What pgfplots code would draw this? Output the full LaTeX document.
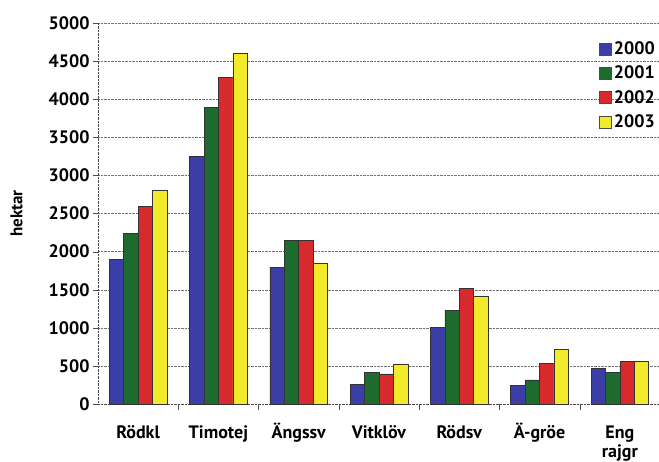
\documentclass[border=0pt]{standalone}
\usepackage{pgfplots}
\pgfplotsset{compat=1.18}
\usepackage{fontspec}
\setmainfont{PT Sans}

\definecolor{c2000}{HTML}{3A3EA6}
\definecolor{c2001}{HTML}{1E6B2E}
\definecolor{c2002}{HTML}{D82A2C}
\definecolor{c2003}{HTML}{F2EA2A}

\newcommand{\lblfont}{\bfseries\fontsize{18}{21}\selectfont}

\begin{document}
\begin{tikzpicture}
\useasboundingbox (-98pt,-57pt) rectangle (561pt,404pt);
\begin{axis}[
  scale only axis, width=562pt, height=381pt,
  ybar=0pt, bar width=14.4pt,
  xmin=-0.5, xmax=6.5, ymin=0, ymax=5000,
  ytick={0,500,...,5000},
  xtick={0,...,6},
  xticklabels={Rödkl, Timotej, Ängssv, Vitklöv, Rödsv, Ä-gröe,
    {\begin{tabular}[t]{@{}c@{}}Eng\\[-2pt]rajgr\end{tabular}}},
  xticklabel style={anchor=base, yshift=-29pt},
  minor x tick num=1,
  major x tick style={draw=none},
  minor x tick style={draw=black!70},
  minor tick length=6pt, major tick length=5pt,
  tick align=outside,
  axis x line*=bottom, axis y line*=left,
  axis line style={densely dotted, draw=black!70},
  ymajorgrids, grid style={densely dotted, draw=black!55},
  ytick style={draw=black!70},
  /pgf/number format/assume math mode=true,
  /pgf/number format/1000 sep={},
  ticklabel style={font=\lblfont},
  ylabel={hektar},
  ylabel style={at={(axis description cs:-0.145,0.5)}, anchor=center, font=\bfseries\fontsize{17}{19}\selectfont},
  legend style={at={(1,0.962)}, anchor=north east, draw=none, fill=none, font=\lblfont, row sep=6pt},
  legend cell align=left,
  legend image code/.code={\draw[#1, draw=black!70] (0pt,-6pt) rectangle (12pt,6pt);},
  every axis plot/.append style={draw=black!80, line width=0.6pt},
]
\addplot[fill=c2000] coordinates {(0,1900) (1,3245) (2,1795) (3,262) (4,1006) (5,249) (6,468)};
\addplot[fill=c2001] coordinates {(0,2240) (1,3890) (2,2145) (3,411) (4,1224) (5,315) (6,411)};
\addplot[fill=c2002] coordinates {(0,2590) (1,4283) (2,2145) (3,394) (4,1517) (5,534) (6,560)};
\addplot[fill=c2003] coordinates {(0,2800) (1,4600) (2,1846) (3,516) (4,1417) (5,718) (6,564)};
\legend{2000,2001,2002,2003}
\end{axis}
\end{tikzpicture}
\end{document}
